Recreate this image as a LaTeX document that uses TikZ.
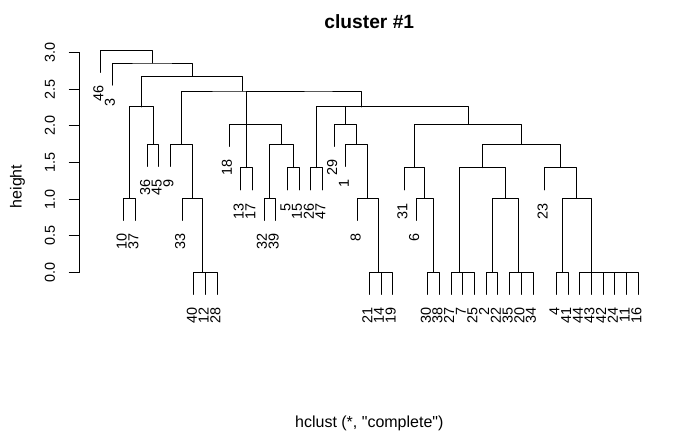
\documentclass[tikz,border=0pt]{standalone}
\usepackage{fontspec}
\setmainfont{Liberation Sans}[Ligatures=TeXOff]
\begin{document}
\begin{tikzpicture}[x=1pt,y=-1pt,
  den/.style={draw=black,line width=0.9pt,line cap=round,line join=round},
  leaflab/.style={rotate=90,anchor=east,inner sep=0pt,font=\fontsize{14.4}{16}\selectfont},
  ticklab/.style={rotate=90,anchor=center,inner sep=0pt,font=\fontsize{14.4}{16}\selectfont},
  axlab/.style={inner sep=0pt,font=\fontsize{16}{18}\selectfont},
  titlelab/.style={inner sep=0pt,font=\bfseries\fontsize{19.2}{22}\selectfont}]
\path[use as bounding box] (0,0) rectangle (700,432);
\fill[white] (0,0) rectangle (700,432);

% leaves: index / x / lower end / label
\foreach \i/\x/\e/\t in {
 1/100.3/72.5/46, 2/112.0/85.2/3, 3/123.7/220.5/10, 4/135.4/220.5/37,
 5/147.1/166.3/36, 6/158.8/166.3/45, 7/170.5/166.3/9, 8/182.2/220.5/33,
 9/193.9/294.5/40, 10/205.6/294.5/12, 11/217.3/294.5/28, 12/229.0/146.5/18,
 13/240.7/189.85/13, 14/252.3/189.85/17, 15/264.0/220.5/32, 16/275.7/220.5/39,
 17/287.4/189.85/5, 18/299.1/189.85/15, 19/310.8/189.85/26, 20/322.5/189.85/47,
 21/334.2/146.5/29, 22/345.9/166.3/1, 23/357.6/220.5/8, 24/369.3/294.5/21,
 25/381.0/294.5/14, 26/392.7/294.5/19, 27/404.4/189.85/31, 28/416.1/220.5/6,
 29/427.8/294.5/30, 30/439.5/294.5/38, 31/451.1/294.5/27, 32/462.8/294.5/7,
 33/474.5/294.5/25, 34/486.2/294.5/2, 35/497.9/294.5/22, 36/509.6/294.5/35,
 37/521.3/294.5/20, 38/533.0/294.5/34, 39/544.7/189.85/23, 40/556.4/294.5/4,
 41/568.1/294.5/41, 42/579.8/294.5/44, 43/591.5/294.5/43, 44/603.2/294.5/42,
 45/614.9/294.5/24, 46/626.6/294.5/11, 47/638.3/294.5/16}
{
  \coordinate (l\i) at (\x,\e);
  \node[leaflab] (t\i) at (\x-2,\e+13) {\t};
}

% merge points
\foreach \m/\x/\y in {
 a1/211.45/272.3, a2/202.675/272.3, a3/192.44/198.3, a4/181.47/144.1,
 a5/129.55/198.3, a6/152.95/144.1, a7/141.25/106.8,
 b1/246.5/167.65, b2/269.85/198.3, b3/293.25/167.65, b4/281.55/144.1,
 b5/264.03/124.3, b6/246.51/124.3,
 c1/316.65/167.65, c2/386.85/272.3, c3/378.08/272.3, c4/367.84/198.3,
 c5/356.87/144.1, c6/345.53/124.3,
 d1/433.65/272.3, d2/424.88/198.3, d3/414.64/167.65, d4/468.65/272.3,
 d5/459.88/272.3, d6/492.05/272.3, d7/527.15/272.3, d8/518.38/272.3,
 d9/505.21/198.3, d10/482.54/167.65,
 e1/562.25/272.3, e2/632.45/272.3, e3/623.68/272.3, e4/613.44/272.3,
 e5/602.47/272.3, e6/591.13/272.3, e7/576.69/198.3, e8/560.70/167.65,
 e9/521.62/144.1, e10/468.13/124.3,
 p/406.83/106.8, q/361.74/106.8, ra/304.13/91.0, rb/242.80/91.0,
 rc/192.03/76.5, rd/152.01/63.0, re/126.16/50.3}
{
  \coordinate (\m) at (\x,\y);
}

% merges: parent / left child / right child
\foreach \m/\a/\b in {
 a1/l10/l11, a2/l9/a1, a3/l8/a2, a4/l7/a3, a5/l3/l4, a6/l5/l6, a7/a5/a6,
 b1/l13/l14, b2/l15/l16, b3/l17/l18, b4/b2/b3, b5/b1/b4, b6/l12/b5,
 c1/l19/l20, c2/l25/l26, c3/l24/c2, c4/l23/c3, c5/l22/c4, c6/l21/c5,
 d1/l29/l30, d2/l28/d1, d3/l27/d2, d4/l32/l33, d5/l31/d4, d6/l34/l35,
 d7/l37/l38, d8/l36/d7, d9/d6/d8, d10/d5/d9,
 e1/l40/l41, e2/l46/l47, e3/l45/e2, e4/l44/e3, e5/l43/e4, e6/l42/e5,
 e7/e1/e6, e8/l39/e7, e9/d10/e8, e10/d3/e9,
 p/c6/e10, q/c1/p, ra/b6/q, rb/a4/ra, rc/a7/rb, rd/l2/rc, re/l1/rd}
{
  \draw[den] (\a) |- (\m) -| (\b);
}

% axis
\coordinate (ax0) at (79.3,272.3);
\coordinate (ax3) at (79.3,52.5);
\draw[den] (ax0) -- (ax3);
\foreach \v/\y [count=\k] in {0.0/272.3, 0.5/235.67, 1.0/199.03, 1.5/162.4,
  2.0/125.76, 2.5/89.13, 3.0/52.5}
{
  \coordinate (tka\k) at (79.3,\y);
  \coordinate (tkb\k) at (69.3,\y);
  \draw[den] (tka\k) -- (tkb\k);
  \node[ticklab] (tl\k) at (50,\y) {\v};
}

\node[titlelab,anchor=base] (title) at (369.3,28.3) {cluster \#1};
\node[axlab,anchor=base] (xlab) at (369.3,427) {hclust (*, "complete")};
\node[axlab,rotate=90] (ylab) at (17.5,186.5) {height};
\end{tikzpicture}
\end{document}
